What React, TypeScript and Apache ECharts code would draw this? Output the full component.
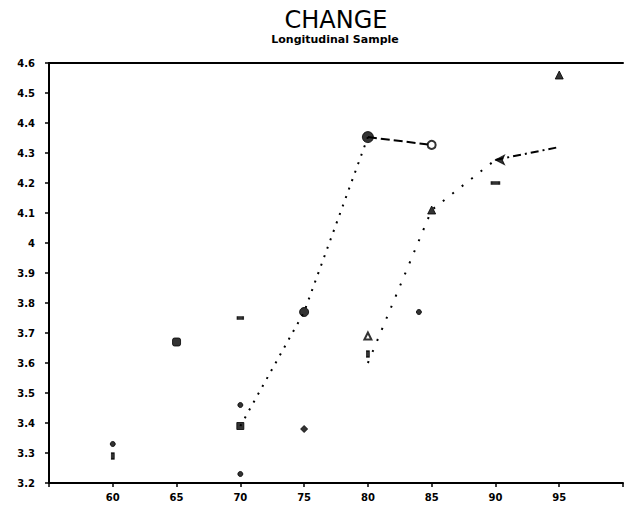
import React, { useEffect, useRef } from "react";
import * as echarts from "echarts";

// Tick values (x axis years) and y range
const xTickValues = [60, 65, 70, 75, 80, 85, 90, 95];
const yMin = 3.2;
const yMax = 4.6;

// Individual markers (x, value)
const dotPts = [[60, 3.33], [70, 3.46], [70, 3.23], [84, 3.77]];
const smallBarPts = [[60, 3.29], [80, 3.63]];
const blobPts = [[65, 3.67]];
const dashPts = [[70, 3.75]];
const squarePts = [[70, 3.39]];
const circlePts = [[75, 3.77]];
const bigCirclePts = [[80, 4.353]];
const diamondPts = [[75, 3.38]];
const caretPts = [[80, 3.69]];
const openCirclePts = [[85, 4.327]];
const trianglePts = [[85, 4.11], [95, 4.56]];
const arrowPts = [[90, 4.277]];
const barPts = [[90, 4.2]];

// Connecting lines (longitudinal trends)
const trendA1 = [[70, 3.39], [75, 3.77], [80, 4.353]];
const trendA2 = [[80, 4.353], [85, 4.327]];
const trendB1 = [[80, 3.6], [85, 4.11], [90, 4.277]];
const trendB2 = [[90, 4.277], [95, 4.32]];

const FONT = "DejaVu Sans";

function scatter(data: number[][], symbol: string, size: any, extra: any = {}) {
  return {
    type: "scatter",
    data,
    symbol,
    symbolSize: size,
    itemStyle: { color: "#000", borderColor: "#000", ...(extra.itemStyle || {}) },
    symbolRotate: extra.rotate || 0,
    z: 5,
    silent: true,
  };
}

function line(data: number[][], type: any, width = 2) {
  return {
    type: "line",
    data,
    showSymbol: false,
    symbol: "none",
    lineStyle: { color: "#000", width, type },
    z: 3,
    silent: true,
  };
}

export default function App() {
  const ref = useRef<HTMLDivElement>(null);
  useEffect(() => {
    if (!ref.current) return;
    const chart = echarts.init(ref.current, null, { renderer: "svg" });
    chart.setOption({
      animation: false,
      backgroundColor: "#fff",
      title: [
        {
          text: "CHANGE",
          left: 331,
          top: 3,
          textAlign: "center",
          textStyle: { fontFamily: FONT, fontSize: 24, fontWeight: "normal", color: "#000" },
        },
        {
          text: "Longitudinal Sample",
          left: 330,
          top: 29,
          textAlign: "center",
          textStyle: { fontFamily: FONT, fontSize: 11, fontWeight: "bold", color: "#000" },
        },
      ],
      grid: { left: 49, right: 0, top: 63, bottom: 26 },
      xAxis: [
        {
          type: "value",
          min: 55,
          max: 100,
          interval: 5,
          axisLine: { show: true, lineStyle: { color: "#000", width: 2 } },
          axisTick: { show: true, length: 4, lineStyle: { color: "#000", width: 1.5 } },
          axisLabel: {
            margin: 9,
            fontFamily: FONT,
            fontSize: 10,
            fontWeight: "bold",
            color: "#000",
            formatter: (v: number) => (xTickValues.indexOf(v) >= 0 ? String(v) : ""),
          },
          splitLine: { show: false },
        },
        {
          type: "value",
          position: "top",
          min: 55,
          max: 100,
          axisLine: { show: true, lineStyle: { color: "#000", width: 2 } },
          axisTick: { show: false },
          axisLabel: { show: false },
          splitLine: { show: false },
        },
      ],
      yAxis: {
        type: "value",
        min: yMin,
        max: yMax,
        interval: 0.1,
        axisLine: { show: true, lineStyle: { color: "#000", width: 2 } },
        axisTick: { show: true, length: 4, lineStyle: { color: "#000", width: 1.5 } },
        axisLabel: {
          margin: 14,
          fontFamily: FONT,
          fontSize: 10,
          fontWeight: "bold",
          color: "#000",
          formatter: (v: number) => String(Math.round(v * 10) / 10),
        },
        splitLine: { show: false },
      },
      series: [
        line(trendA1, [2, 7], 2),
        line(trendA2, [9, 4], 2),
        line(trendB1, [2, 10], 2),
        line(trendB2, [8, 4, 2, 4], 2),
        scatter(dotPts, "circle", 5),
        scatter(smallBarPts, "rect", [3, 6]),
        scatter(blobPts, "roundRect", 8),
        scatter(dashPts, "rect", [6, 3]),
        scatter(squarePts, "rect", 7),
        scatter(circlePts, "circle", 9),
        scatter(bigCirclePts, "circle", 11),
        scatter(diamondPts, "diamond", 7),
        scatter(caretPts, "emptyTriangle", 7, { itemStyle: { borderWidth: 2 } }),
        scatter(openCirclePts, "emptyCircle", 8, { itemStyle: { borderWidth: 2.5 } }),
        scatter(trianglePts, "triangle", 8),
        scatter(arrowPts, "arrow", [7, 9], { rotate: 90 }),
        scatter(barPts, "rect", [8, 3]),
      ],
    });
    return () => chart.dispose();
  }, []);
  return (
    <div
      ref={ref}
      style={{ position: "fixed", left: 0, top: 0, width: 626, height: 509, background: "#fff" }}
    />
  );
}
